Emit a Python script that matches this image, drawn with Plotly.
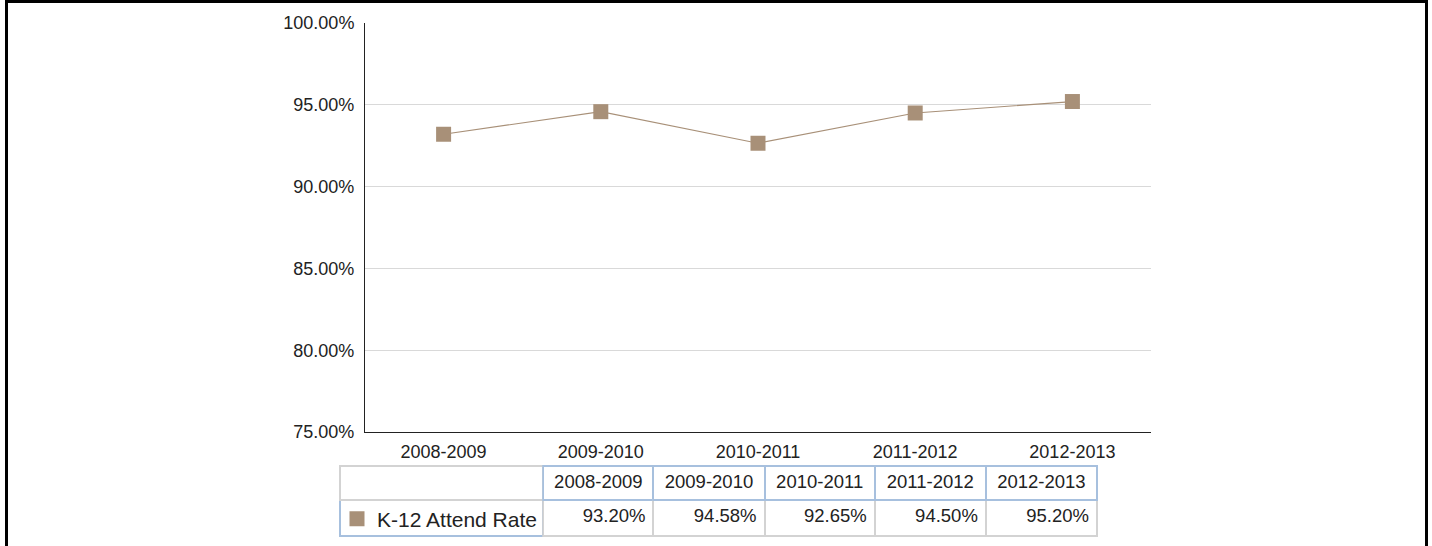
import plotly.graph_objects as go

categories = ["2008-2009", "2009-2010", "2010-2011", "2011-2012", "2012-2013"]
series_name = "K-12 Attend Rate"
values = [93.20, 94.58, 92.65, 94.50, 95.20]
y_ticks = [75, 80, 85, 90, 95, 100]
y_ticklabels = ["75.00%", "80.00%", "85.00%", "90.00%", "95.00%", "100.00%"]

W, H = 1432, 546
color = "#A89078"
font = "Liberation Sans, Arial, sans-serif"
fs = 18

fig = go.Figure()
# connecting line
fig.add_trace(go.Scatter(
    x=categories, y=values, mode="lines",
    line=dict(color=color, width=1.2),
    showlegend=False, hoverinfo="skip",
))
# square markers; legend entry doubles as the table's row label
fig.add_trace(go.Scatter(
    x=categories, y=values, mode="markers", name=series_name,
    marker=dict(symbol="square", size=15, color=color),
    showlegend=True, hoverinfo="skip",
))

header_vals = [""] + categories
cell_vals = [[""]] + [["%.2f%%" % v] for v in values]
blue = "#A7C0DE"
gray = "#D3D3D3"
fig.add_trace(go.Table(
    domain=dict(x=[340 / W, 1097 / W], y=[0, 1 - 466 / H]),
    columnwidth=[203, 110, 111, 110, 111, 111],
    header=dict(
        values=header_vals, height=34, align="center",
        fill_color="white",
        line=dict(color=[gray] + [blue] * 5, width=2),
        font=dict(family=font, size=18.5, color="#222"),
    ),
    cells=dict(
        values=cell_vals, height=36, align=["left"] + ["right"] * 5,
        fill_color="white",
        line=dict(color=[blue] + [gray] * 5, width=2),
        font=dict(family=font, size=18.5, color="#222"),
    ),
))

fig.update_layout(
    width=W, height=H,
    margin=dict(l=0, r=0, t=0, b=0, autoexpand=False),
    paper_bgcolor="white", plot_bgcolor="white",
    font=dict(family=font, size=fs, color="#222"),
    showlegend=True,
    legend=dict(
        x=337 / W, xanchor="left", y=1 - 519 / H, yanchor="middle",
        bgcolor="rgba(0,0,0,0)", borderwidth=0,
        font=dict(family=font, size=21, color="#222"),
    ),
    xaxis=dict(
        domain=[365 / W, 1151 / W], range=[-0.5, 4.5], automargin=False,
        showgrid=False, showline=True, linecolor="#222", linewidth=1,
        ticks="", tickfont=dict(size=fs), ticklabelstandoff=3,
    ),
    yaxis=dict(
        domain=[1 - 432 / H, 1 - 23 / H], range=[75, 100], automargin=False,
        tickvals=y_ticks, ticktext=y_ticklabels,
        showgrid=True, gridcolor="#D9D9D9", gridwidth=1,
        showline=True, linecolor="#222", linewidth=1,
        ticks="", tickfont=dict(size=fs), ticklabelstandoff=6,
        zeroline=False,
    ),
    shapes=[
        dict(type="line", xref="paper", yref="paper", x0=6.5 / W, x1=6.5 / W, y0=0, y1=1,
             line=dict(color="black", width=3)),
        dict(type="line", xref="paper", yref="paper", x0=5 / W, x1=1428 / W, y0=1 - 1.5 / H, y1=1 - 1.5 / H,
             line=dict(color="black", width=3)),
        dict(type="line", xref="paper", yref="paper", x0=1426.5 / W, x1=1426.5 / W, y0=0, y1=1,
             line=dict(color="black", width=3)),
    ],
)

fig.write_html("out.html")
